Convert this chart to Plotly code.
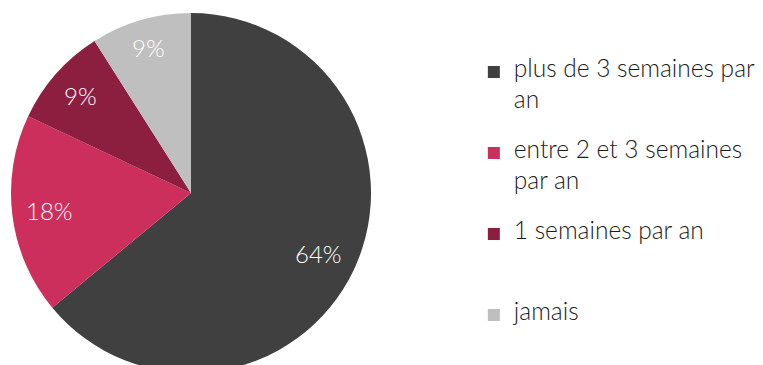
import math
import textwrap
import plotly.graph_objects as go

categories = ["plus de 3 semaines par an", "entre 2 et 3 semaines par an", "1 semaines par an", "jamais"]
values = [64, 18, 9, 9]
colors = ["#404040", "#CC2F5C", "#8C1F3F", "#BFBFBF"]

W, H = 763, 365
ML, MR, MT, MB = 3, 0, 5, 0
plot_w = W - ML - MR
plot_h = H - MT - MB
dom_w = plot_h / plot_w  # square pie domain on the left
R_PX = plot_h / 2

FONT = "Lato"
LEG_BASE = 12      # sets legend line pitch
LEG_TEXT = 24.5    # visible legend text size
LINES_PER_ITEM = 5
LBL_SIZE = 24


def legend_label(name, last):
    parts = textwrap.wrap(name, 22)
    lines = []
    for i, p in enumerate(parts):
        if i:
            lines.append("")
        lines.append(f'<span style="font-size:{LEG_TEXT}px">{p}</span>')
    if not last:
        while len(lines) < LINES_PER_ITEM:
            lines.append("")
    return "<br>".join(lines)


labels = [legend_label(c, i == len(categories) - 1) for i, c in enumerate(categories)]

fig = go.Figure(go.Pie(
    labels=labels,
    values=values,
    sort=False,
    direction="clockwise",
    rotation=0,
    marker=dict(colors=colors, line=dict(width=0)),
    textinfo="none",
    domain=dict(x=[0, dom_w], y=[0, 1]),
    hoverinfo="skip",
))

# percentage labels along each slice's mid-angle, their outer edge kept inside the rim
total = sum(values)
cx, cy = dom_w / 2, 0.5
cum = 0
for v in values:
    mid = (cum + v / 2) / total * 2 * math.pi
    cum += v
    txt = f"{round(v / total * 100)}%"
    half_w = (0.46 * LBL_SIZE * (len(txt) - 1) + 0.87 * LBL_SIZE) / 2
    half_h = 0.38 * LBL_SIZE
    s, c = math.sin(mid), math.cos(mid)
    d_px = 0.915 * R_PX - (abs(s) * half_w + abs(c) * half_h)
    fig.add_annotation(
        x=cx + d_px * s / plot_w,
        y=cy + d_px * c / plot_h,
        xref="paper", yref="paper",
        text=txt,
        showarrow=False,
        font=dict(family=FONT, size=LBL_SIZE, color="white", weight=300),
        xanchor="center", yanchor="middle",
    )

fig.update_layout(
    width=W, height=H,
    margin=dict(l=ML, r=MR, t=MT, b=MB),
    paper_bgcolor="white",
    plot_bgcolor="white",
    showlegend=True,
    legend=dict(
        x=0.609, y=0.876, xanchor="left", yanchor="top",
        font=dict(family=FONT, size=LEG_BASE, color="#1A1A1A", weight=300),
        valign="top",
        traceorder="normal",
    ),
)

fig.write_html("out.html")
